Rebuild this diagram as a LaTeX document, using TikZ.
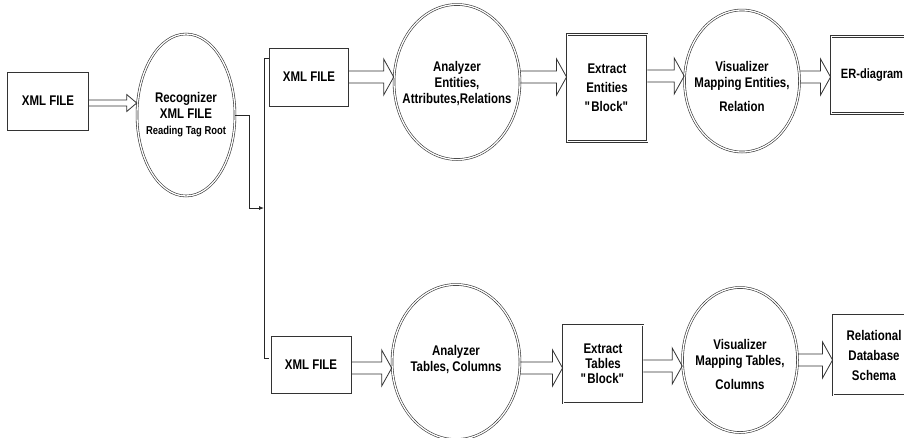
\documentclass[tikz,border=0pt]{standalone}
\usepackage{fontspec}
\setmainfont[FakeStretch=0.82]{Liberation Sans}
\usetikzlibrary{shapes.geometric,arrows.meta,calc}

\begin{document}
\begin{tikzpicture}[x=1pt, y=-1pt,
    hollow/.style 2 args={to path={let \p1=(\tikztostart), \p2=(\tikztotarget) in
      (\x1,\y1+#1) -- (\x2-10pt,\y1+#1) -- (\x2-10pt,\y1+#2) -- (\x2,\y1)
      -- (\x2-10pt,\y1-#2) -- (\x2-10pt,\y1-#1) -- (\x1,\y1-#1)}}]
    \tikzstyle{filebox} = [rectangle, draw=black!80, line width=0.8pt, inner sep=0pt,
      font=\fontsize{14}{16}\selectfont\bfseries, align=center]
    \tikzstyle{blockbox} = [filebox, double=white, double distance=0.9pt, line width=0.9pt]
    \tikzstyle{stage} = [ellipse, draw=black!80, line width=0.6pt,
      double=white, double distance=1.3pt, inner sep=0pt]
    \tikzstyle{stagetext} = [font=\fontsize{14}{16}\selectfont\bfseries, align=center]
    \tikzstyle{bigarrow} = [draw=black!80, line width=0.8pt, line join=miter]
    \tikzstyle{link} = [draw=black!85, line width=0.8pt, -{Latex[length=5pt,width=4pt]}]

    \clip (0,0) rectangle (904,437);

    % first stage
    \node (xml) [filebox, minimum width=81, minimum height=58] at (48,101) {XML FILE};
    \node (rec) [stage, minimum width=98, minimum height=162,
      label={[stagetext]center:Recognizer\\XML FILE\\{\fontsize{11.5}{13}\selectfont Reading Tag Root}}] at (186,115) {};

    % split bar
    \coordinate (bt) at (264,58);
    \coordinate (bm) at (264,208);
    \coordinate (bb) at (264,358);

    % upper row
    \node (xmlA) [filebox, minimum width=79, minimum height=58] at (309,77) {XML FILE};
    \node (anaA) [stage, minimum width=126, minimum height=155,
      label={[stagetext, yshift=-2]center:Analyzer\\Entities,\\Attributes,Relations}] at (457,82) {};
    \node (extA) [blockbox, minimum width=80, minimum height=107] at (607,88)
      {Extract\\[3pt]Entities\\[3pt]\textquotedbl Block\textquotedbl};
    \node (visA) [stage, minimum width=115, minimum height=142,
      label={[stagetext, yshift=-5]center:Visualizer\\Mapping Entities,\\[8pt]Relation}] at (742,81) {};
    \node (erA) [blockbox, minimum width=82, minimum height=77,
      font=\fontsize{13.5}{16}\selectfont\bfseries] at (872,75) {ER-diagram};

    % lower row
    \node (xmlB) [filebox, minimum width=80, minimum height=57] at (311,365) {XML FILE};
    \node (anaB) [stage, minimum width=128, minimum height=155,
      label={[stagetext, yshift=2]center:Analyzer\\Tables, Columns}] at (456,362) {};
    \node (extB) [blockbox, minimum width=80, minimum height=78,
      font=\fontsize{14}{15}\selectfont\bfseries] at (603,364)
      {Extract\\Tables\\\textquotedbl Block\textquotedbl};
    \node (visB) [stage, minimum width=115, minimum height=145,
      label={[stagetext, yshift=-4]center:Visualizer\\Mapping Tables,\\[8pt]Columns}] at (740,360) {};
    \node (relB) [blockbox, minimum width=82, minimum height=80,
      font=\fontsize{14}{20}\selectfont\bfseries] at (874,355) {Relational\\Database\\Schema};

    % connectors
    \draw [bigarrow, hollow={3pt}{8.5pt}] ([yshift=-2]xml.east) to (rec.west);
    \draw [link] (rec.east) -- ++(14,0) |- (bm);
    \draw [black!85, line width=0.8pt] (bt) ++(5,0) -- (bt) -- (bb) -- ++(5,0);

    \draw [bigarrow, hollow={6pt}{18pt}] (xmlA.east) to (anaA.west);
    \draw [bigarrow, hollow={6pt}{18pt}] ([yshift=5]anaA.east) to (extA.west);
    \draw [bigarrow, hollow={6pt}{18pt}] ([yshift=12]extA.east) to (visA.west);
    \draw [bigarrow, hollow={6pt}{18pt}] ([yshift=4]visA.east) to (erA.west);

    \draw [bigarrow, hollow={6pt}{18pt}] ([yshift=-3]xmlB.east) to (anaB.west);
    \draw [bigarrow, hollow={6pt}{18pt}] ([yshift=-6]anaB.east) to (extB.west);
    \draw [bigarrow, hollow={6pt}{18pt}] ([yshift=-2]extB.east) to (visB.west);
    \draw [bigarrow, hollow={6pt}{18pt}] (visB.east) to (relB.west);
  \end{tikzpicture}
\end{document}
